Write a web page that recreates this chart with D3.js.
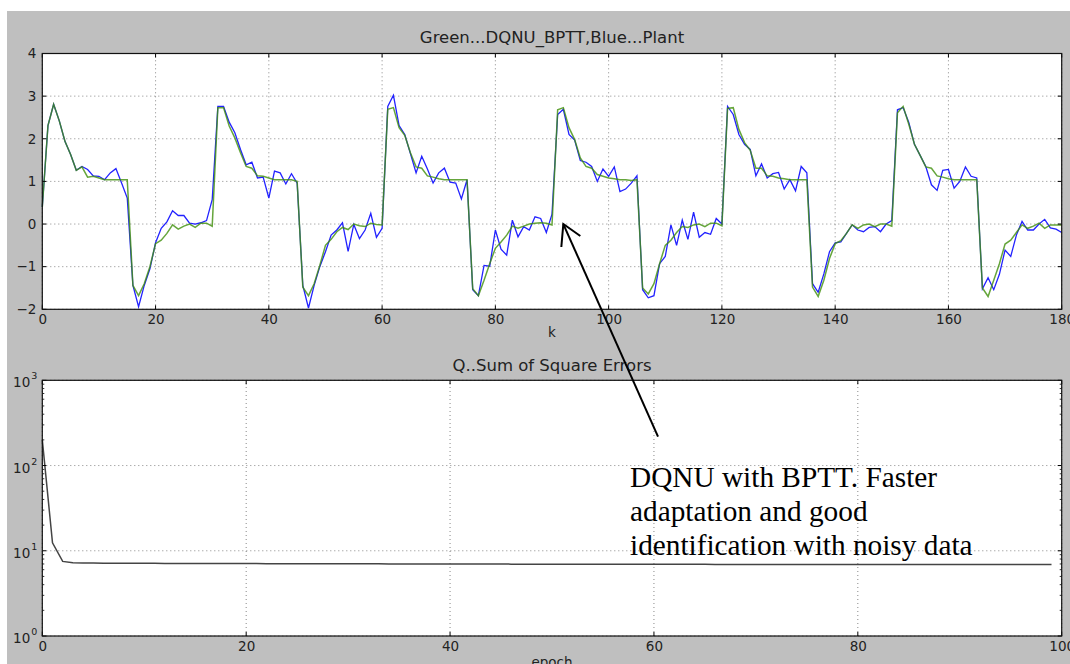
<!DOCTYPE html>
<html>
<head>
<meta charset="utf-8">
<script src="https://cdn.jsdelivr.net/npm/d3@7"></script>
<style>
  body { margin: 0; background: #fff; }
  text { font-family: "DejaVu Sans", sans-serif; fill: #222; }
</style>
</head>
<body>
<script>
// k axis ticks for the top panel, epoch ticks for the bottom panel
var kTicks = [0, 20, 40, 60, 80, 100, 120, 140, 160, 180];
var yTicks = [-2, -1, 0, 1, 2, 3, 4];
var epochTicks = [0, 20, 40, 60, 80, 100];
var logTicks = [1, 10, 100, 1000];

// green ... DQNU_BPTT output, k = 0..180
var green = [
  0.40, 2.31, 2.81, 2.42, 1.94, 1.63, 1.26, 1.34, 1.10, 1.12,
  1.08, 1.04, 1.04, 1.04, 1.04, 1.04, -1.44, -1.68, -1.40, -1.00,
  -0.46, -0.38, -0.22, -0.02, -0.12, -0.05, 0.00, -0.08, 0.02, 0.02,
  -0.05, 2.73, 2.73, 2.30, 2.02, 1.67, 1.35, 1.31, 1.13, 1.12,
  1.08, 1.04, 1.04, 1.04, 1.04, 1.00, -1.48, -1.68, -1.40, -0.97,
  -0.50, -0.36, -0.18, -0.08, -0.13, 0.00, -0.04, -0.06, 0.02, -0.01,
  -0.02, 2.69, 2.73, 2.26, 2.08, 1.67, 1.34, 1.31, 1.13, 1.10,
  1.06, 1.04, 1.04, 1.04, 1.04, 1.04, -1.52, -1.68, -1.32, -0.93,
  -0.57, -0.42, -0.26, -0.05, -0.10, -0.05, 0.00, 0.02, 0.03, 0.02,
  -0.02, 2.68, 2.73, 2.26, 1.98, 1.55, 1.35, 1.31, 1.16, 1.12,
  1.08, 1.06, 1.04, 1.04, 1.02, 1.04, -1.50, -1.64, -1.40, -0.93,
  -0.50, -0.38, -0.20, -0.06, -0.08, -0.02, 0.00, -0.06, 0.02, 0.02,
  -0.04, 2.71, 2.73, 2.22, 1.91, 1.73, 1.31, 1.31, 1.13, 1.12,
  1.08, 1.06, 1.04, 1.04, 1.04, 1.04, -1.48, -1.70, -1.32, -0.81,
  -0.46, -0.39, -0.22, -0.02, -0.10, -0.02, 0.00, -0.06, 0.00, 0.00,
  -0.05, 2.61, 2.76, 2.34, 1.87, 1.61, 1.34, 1.31, 1.13, 1.10,
  1.06, 1.04, 1.04, 1.04, 1.04, 1.04, -1.50, -1.70, -1.32, -0.93,
  -0.47, -0.38, -0.20, -0.02, -0.10, -0.05, 0.02, -0.10, -0.02, -0.02,
  -0.02
];

// blue ... plant output (noisy), k = 0..180
var blue = [
  0.40, 2.31, 2.81, 2.42, 1.94, 1.63, 1.26, 1.35, 1.28, 1.13,
  1.12, 1.04, 1.20, 1.30, 0.96, 0.61, -1.44, -1.94, -1.44, -1.05,
  -0.44, -0.10, 0.05, 0.31, 0.20, 0.20, 0.02, 0.00, 0.03, 0.08,
  0.57, 2.76, 2.76, 2.39, 2.14, 1.75, 1.39, 1.45, 1.08, 1.10,
  0.61, 1.24, 1.20, 0.94, 1.18, 0.96, -1.44, -1.97, -1.44, -1.00,
  -0.65, -0.26, -0.14, 0.03, -0.64, -0.01, -0.34, -0.14, 0.25, -0.31,
  -0.10, 2.76, 3.02, 2.31, 2.10, 1.65, 1.20, 1.59, 1.29, 0.96,
  1.20, 1.31, 0.98, 0.96, 0.59, 1.04, -1.54, -1.68, -0.97, -0.99,
  -0.14, -0.59, -0.73, 0.09, -0.30, -0.06, -0.14, 0.17, 0.13, -0.20,
  0.23, 2.57, 2.69, 2.10, 1.97, 1.49, 1.45, 1.35, 1.00, 1.29,
  1.12, 1.34, 0.76, 0.82, 0.96, 1.13, -1.54, -1.73, -1.68, -0.93,
  -0.76, -0.02, -0.50, 0.09, -0.36, 0.28, -0.31, -0.20, -0.24, 0.13,
  0.00, 2.76, 2.57, 2.10, 1.87, 1.75, 1.13, 1.41, 1.08, 1.18,
  1.21, 0.82, 1.04, 0.78, 1.35, 1.20, -1.40, -1.60, -1.17, -0.65,
  -0.44, -0.42, -0.22, -0.02, -0.14, -0.18, -0.08, -0.06, -0.18, 0.00,
  0.08, 2.68, 2.73, 2.38, 1.87, 1.61, 1.35, 0.92, 0.79, 1.26,
  1.28, 0.84, 1.00, 1.34, 1.12, 1.08, -1.52, -1.26, -1.54, -1.18,
  -0.61, -0.76, -0.26, 0.06, -0.14, -0.14, 0.00, 0.11, -0.09, -0.12,
  -0.20
];

// Q ... sum of square errors per epoch, epoch = 0..99
var sse = [
  200, 12.4, 7.5, 7.25, 7.2, 7.18, 7.16, 7.15, 7.14, 7.13,
  7.12, 7.12, 7.11, 7.11, 7.10, 7.10, 7.09, 7.09, 7.08, 7.08,
  7.07, 7.07, 7.06, 7.06, 7.05, 7.05, 7.05, 7.04, 7.04, 7.03,
  7.03, 7.03, 7.02, 7.02, 7.01, 7.01, 7.01, 7.00, 7.00, 7.00,
  6.99, 6.99, 6.99, 6.98, 6.98, 6.98, 6.97, 6.97, 6.97, 6.96,
  6.96, 6.96, 6.96, 6.95, 6.95, 6.95, 6.95, 6.94, 6.94, 6.94,
  6.94, 6.93, 6.93, 6.93, 6.93, 6.93, 6.92, 6.92, 6.92, 6.92,
  6.92, 6.92, 6.91, 6.91, 6.91, 6.91, 6.91, 6.91, 6.91, 6.90,
  6.90, 6.90, 6.90, 6.90, 6.90, 6.90, 6.90, 6.89, 6.89, 6.89,
  6.89, 6.89, 6.89, 6.89, 6.89, 6.89, 6.88, 6.88, 6.88, 6.88
];

var note = ["DQNU with BPTT. Faster", "adaptation and good", "identification with noisy data"];

var width = 1070, height = 664;
var tickFont = '13.5px', titleFont = '16.5px';

var svg = d3.select('body').append('svg')
    .attr('width', width)
    .attr('height', height);

// grey figure background (white strip on top / left as in the original)
svg.append('rect')
    .attr('x', 7).attr('y', 11)
    .attr('width', width - 7).attr('height', height - 11)
    .attr('fill', '#bfbfbf');

var left = 42.3, right = 1061.7;

// ---------- top panel ----------
var top1 = 53.5, bot1 = 309.3;
var x1 = d3.scaleLinear().domain([0, 180]).range([left, right]);
var y1 = d3.scaleLinear().domain([-2, 4]).range([bot1, top1]);

var g1 = svg.append('g');
g1.append('rect')
    .attr('x', left).attr('y', top1)
    .attr('width', right - left).attr('height', bot1 - top1)
    .attr('fill', '#fff');

drawGrid(g1, x1, y1, kTicks, yTicks);

var line1 = d3.line()
    .x(function(d, i) { return x1(i); })
    .y(function(d) { return y1(d); });

g1.append('path').datum(blue)
    .attr('d', line1)
    .attr('fill', 'none')
    .attr('stroke', '#2222ff')
    .attr('stroke-width', 1.3);

g1.append('path').datum(green)
    .attr('d', line1)
    .attr('fill', 'none')
    .attr('stroke', '#3f8f0a')
    .attr('stroke-opacity', 0.8)
    .attr('stroke-width', 1.5);

drawFrame(g1, x1, y1, kTicks, yTicks);

g1.append('g')
    .attr('transform', 'translate(0,' + bot1 + ')')
    .call(d3.axisBottom(x1).tickValues(kTicks).tickSize(0).tickPadding(5).tickFormat(d3.format('d')))
    .call(cleanAxis);

g1.append('g')
    .attr('transform', 'translate(' + left + ',0)')
    .call(d3.axisLeft(y1).tickValues(yTicks).tickSize(0).tickPadding(6).tickFormat(d3.format('d')))
    .call(cleanAxis);

g1.append('text')
    .attr('x', (left + right) / 2).attr('y', 43)
    .attr('text-anchor', 'middle')
    .style('font-size', titleFont)
    .text('Green...DQNU_BPTT,Blue...Plant');

g1.append('text')
    .attr('x', (left + right) / 2).attr('y', 337)
    .attr('text-anchor', 'middle')
    .style('font-size', tickFont)
    .text('k');

// ---------- bottom panel ----------
var top2 = 380.3, bot2 = 636;
var x2 = d3.scaleLinear().domain([0, 100]).range([left, right]);
var y2 = d3.scaleLog().domain([1, 1000]).range([bot2, top2]);

var g2 = svg.append('g');
g2.append('rect')
    .attr('x', left).attr('y', top2)
    .attr('width', right - left).attr('height', bot2 - top2)
    .attr('fill', '#fff');

drawGrid(g2, x2, y2, epochTicks, logTicks);

g2.append('path').datum(sse)
    .attr('d', d3.line()
        .x(function(d, i) { return x2(i); })
        .y(function(d) { return y2(d); }))
    .attr('fill', 'none')
    .attr('stroke', '#444')
    .attr('stroke-width', 1.5);

// minor log ticks 2..9 on both sides
var minor = [];
[1, 10, 100].forEach(function(p) {
    for (var m = 2; m <= 9; m++) minor.push(p * m);
});
g2.selectAll('.minor-l').data(minor).enter().append('line')
    .attr('x1', left).attr('x2', left + 2)
    .attr('y1', function(d) { return y2(d); })
    .attr('y2', function(d) { return y2(d); })
    .attr('stroke', '#000').attr('stroke-width', 0.8);
g2.selectAll('.minor-r').data(minor).enter().append('line')
    .attr('x1', right).attr('x2', right - 2)
    .attr('y1', function(d) { return y2(d); })
    .attr('y2', function(d) { return y2(d); })
    .attr('stroke', '#000').attr('stroke-width', 0.8);

drawFrame(g2, x2, y2, epochTicks, logTicks);

g2.append('g')
    .attr('transform', 'translate(0,' + bot2 + ')')
    .call(d3.axisBottom(x2).tickValues(epochTicks).tickSize(0).tickPadding(5).tickFormat(d3.format('d')))
    .call(cleanAxis);

// 10^n labels with superscripts
g2.selectAll('.ylab').data(logTicks).enter().append('text')
    .attr('x', left - 12)
    .attr('y', function(d) { return y2(d) + 7; })
    .attr('text-anchor', 'end')
    .style('font-size', tickFont)
    .text('10');
g2.selectAll('.ysup').data(logTicks).enter().append('text')
    .attr('x', left - 11)
    .attr('y', function(d) { return y2(d) - 1; })
    .style('font-size', '9.5px')
    .text(function(d) { return Math.round(Math.log10(d)); });

g2.append('text')
    .attr('x', (left + right) / 2).attr('y', 371)
    .attr('text-anchor', 'middle')
    .style('font-size', titleFont)
    .text('Q..Sum of Square Errors');

g2.append('text')
    .attr('x', (left + right) / 2).attr('y', 667)
    .attr('text-anchor', 'middle')
    .style('font-size', tickFont)
    .text('epoch');

// ---------- annotation ----------
var arrowTip = [x1(92), y1(0)], arrowTail = [x2(60.4), y2(218)];
svg.append('line')
    .attr('x1', arrowTail[0]).attr('y1', arrowTail[1])
    .attr('x2', arrowTip[0]).attr('y2', arrowTip[1])
    .attr('stroke', '#000').attr('stroke-width', 2);
svg.append('path')
    .attr('d', 'M' + (arrowTip[0] + 17) + ',' + (arrowTip[1] + 12) +
        'L' + arrowTip[0] + ',' + arrowTip[1] +
        'L' + (arrowTip[0] - 2) + ',' + (arrowTip[1] + 23))
    .attr('fill', 'none')
    .attr('stroke', '#000').attr('stroke-width', 2);

svg.append('g').selectAll('text').data(note).enter().append('text')
    .attr('x', 630)
    .attr('y', function(d, i) { return 487 + i * 34; })
    .style('font-family', '"Liberation Serif", "Times New Roman", serif')
    .style('font-size', '29.3px')
    .style('fill', '#000')
    .text(function(d) { return d; });

// dotted grid lines
function drawGrid(g, x, y, xt, yt) {
    var y0 = y.range()[0], yEnd = y.range()[1];
    g.selectAll('.gx').data(xt).enter().append('line')
        .attr('x1', function(d) { return x(d); })
        .attr('x2', function(d) { return x(d); })
        .attr('y1', y0).attr('y2', yEnd)
        .attr('stroke', '#555').attr('stroke-width', 0.7)
        .attr('stroke-dasharray', '1,3');
    g.selectAll('.gy').data(yt).enter().append('line')
        .attr('x1', x.range()[0]).attr('x2', x.range()[1])
        .attr('y1', function(d) { return y(d); })
        .attr('y2', function(d) { return y(d); })
        .attr('stroke', '#555').attr('stroke-width', 0.7)
        .attr('stroke-dasharray', '1,3');
}

// black box plus inward major ticks on all four sides
function drawFrame(g, x, y, xt, yt) {
    var xa = x.range()[0], xb = x.range()[1], ya = y.range()[0], yb = y.range()[1];
    xt.forEach(function(d) {
        g.append('line').attr('x1', x(d)).attr('x2', x(d)).attr('y1', ya).attr('y2', ya - 4)
            .attr('stroke', '#000');
        g.append('line').attr('x1', x(d)).attr('x2', x(d)).attr('y1', yb).attr('y2', yb + 4)
            .attr('stroke', '#000');
    });
    yt.forEach(function(d) {
        g.append('line').attr('x1', xa).attr('x2', xa + 4).attr('y1', y(d)).attr('y2', y(d))
            .attr('stroke', '#000');
        g.append('line').attr('x1', xb).attr('x2', xb - 4).attr('y1', y(d)).attr('y2', y(d))
            .attr('stroke', '#000');
    });
    g.append('rect')
        .attr('x', xa).attr('y', yb)
        .attr('width', xb - xa).attr('height', ya - yb)
        .attr('fill', 'none')
        .attr('stroke', '#111').attr('stroke-width', 1.2);
}

function cleanAxis(sel) {
    sel.select('.domain').remove();
    sel.selectAll('text').style('font-size', tickFont).style('fill', '#222')
        .style('font-family', '"DejaVu Sans", sans-serif');
}
</script>
</body>
</html>
